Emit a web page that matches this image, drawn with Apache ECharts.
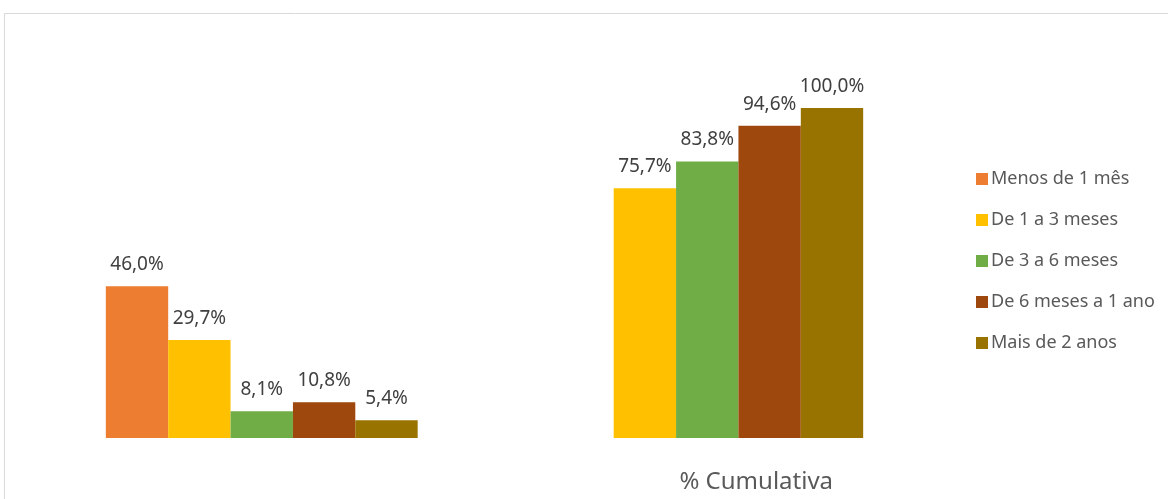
<!DOCTYPE html>
<html>
<head>
<meta charset="utf-8">
<script src="https://cdn.jsdelivr.net/npm/echarts@6/dist/echarts.min.js"></script>
<style>
html,body{margin:0;padding:0;background:#fff;}
#c{width:1168px;height:499px;}
</style>
</head>
<body>
<div id="c"></div>
<script>
var categories = ['', '% Cumulativa'];
var seriesNames = ['Menos de 1 mês', 'De 1 a 3 meses', 'De 3 a 6 meses', 'De 6 meses a 1 ano', 'Mais de 2 anos'];
var menos1Mes = [46.0, null];
var de1a3 = [29.7, 75.7];
var de3a6 = [8.1, 83.8];
var de6a12 = [10.8, 94.6];
var mais2 = [5.4, 100.0];
var colors = ['#ED7D31', '#FFC000', '#70AD47', '#9E480E', '#997300'];

var dataSets = [menos1Mes, de1a3, de3a6, de6a12, mais2];
var font = 'Noto Sans';

var chart = echarts.init(document.getElementById('c'));
var series = seriesNames.map(function (name, i) {
  return {
    name: name,
    type: 'bar',
    data: dataSets[i],
    barGap: '0%',
    barCategoryGap: '30%',
    itemStyle: { color: colors[i] },
    label: {
      show: true,
      position: 'top',
      distance: 12,
      color: '#404040',
      fontFamily: font,
      fontSize: 19,
      formatter: function (p) {
        return p.value == null ? '' : p.value.toFixed(1).replace('.', ',') + '%';
      }
    }
  };
});

chart.setOption({
  animation: false,
  color: colors,
  graphic: [{
    type: 'rect',
    shape: { x: 4.5, y: 13.5, width: 1300, height: 700 },
    style: { fill: 'none', stroke: '#d9d9d9', lineWidth: 1 },
    silent: true
  }],
  grid: { left: 39, right: 238, top: 108, bottom: 61 },
  legend: {
    orient: 'vertical',
    left: 971,
    top: 164,
    itemWidth: 12,
    itemHeight: 12,
    itemGap: 21,
    icon: 'rect',
    textStyle: { color: '#595959', fontFamily: font, fontSize: 18, lineHeight: 20, padding: [0, 0, 0, -2] },
    data: seriesNames
  },
  xAxis: {
    type: 'category',
    data: categories,
    axisLine: { show: false },
    axisTick: { show: false },
    axisLabel: {
      color: '#595959',
      fontFamily: font,
      fontSize: 24,
      margin: 32,
      padding: [0, 0, 0, 98]
    }
  },
  yAxis: {
    type: 'value',
    min: 0,
    max: 100,
    show: false,
    splitLine: { show: false }
  },
  series: series
});
</script>
</body>
</html>
